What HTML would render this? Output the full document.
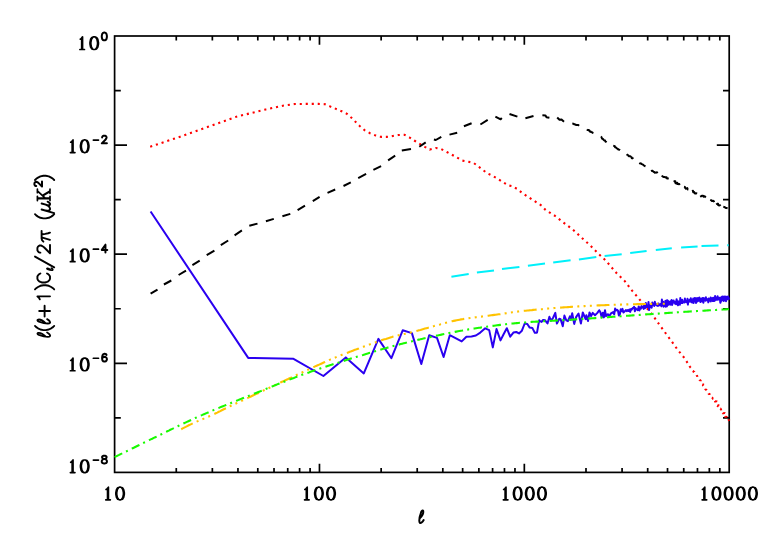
<!DOCTYPE html>
<html><head><meta charset="utf-8"><title>plot</title>
<style>html,body{margin:0;padding:0;background:#fff;font-family:"Liberation Sans",sans-serif}svg{display:block}</style>
</head><body>
<svg width="763" height="545" viewBox="0 0 763 545">
<rect width="763" height="545" fill="#fff"/>
<g stroke="#000" stroke-width="1.7" fill="none" stroke-linecap="butt">
<rect x="114.6" y="36.0" width="614.60" height="436.40"/>
<path d="M176.27 472.4v-4.4M176.27 36.0v4.4M212.35 472.4v-4.4M212.35 36.0v4.4M237.94 472.4v-4.4M237.94 36.0v4.4M257.80 472.4v-4.4M257.80 36.0v4.4M274.02 472.4v-4.4M274.02 36.0v4.4M287.73 472.4v-4.4M287.73 36.0v4.4M299.61 472.4v-4.4M299.61 36.0v4.4M310.09 472.4v-4.4M310.09 36.0v4.4M319.47 472.4v-8.7M319.47 36.0v8.7M381.14 472.4v-4.4M381.14 36.0v4.4M417.21 472.4v-4.4M417.21 36.0v4.4M442.81 472.4v-4.4M442.81 36.0v4.4M462.66 472.4v-4.4M462.66 36.0v4.4M478.88 472.4v-4.4M478.88 36.0v4.4M492.60 472.4v-4.4M492.60 36.0v4.4M504.48 472.4v-4.4M504.48 36.0v4.4M514.96 472.4v-4.4M514.96 36.0v4.4M524.33 472.4v-8.7M524.33 36.0v8.7M586.00 472.4v-4.4M586.00 36.0v4.4M622.08 472.4v-4.4M622.08 36.0v4.4M647.68 472.4v-4.4M647.68 36.0v4.4M667.53 472.4v-4.4M667.53 36.0v4.4M683.75 472.4v-4.4M683.75 36.0v4.4M697.47 472.4v-4.4M697.47 36.0v4.4M709.35 472.4v-4.4M709.35 36.0v4.4M719.83 472.4v-4.4M719.83 36.0v4.4M114.6 90.55h6.2M729.2 90.55h-6.2M114.6 145.10h12.4M729.2 145.10h-12.4M114.6 199.65h6.2M729.2 199.65h-6.2M114.6 254.20h12.4M729.2 254.20h-12.4M114.6 308.75h6.2M729.2 308.75h-6.2M114.6 363.30h12.4M729.2 363.30h-12.4M114.6 417.85h6.2M729.2 417.85h-6.2"/>
</g>
<path d="M150.2 146.7L179.5 136.9L208.0 126.8L236.4 116.7L265.8 109.4L282.8 105.7L294.8 104.0L306.7 103.9L318.6 103.9L325.0 104.2L330.5 106.6L341.6 111.2L347.0 113.9L351.7 118.0L355.9 122.2L359.9 126.2L364.5 130.1L370.0 133.2L375.5 135.4L381.0 136.9L386.5 136.9L392.9 136.0L398.4 135.0L404.5 134.8L409.3 137.3L414.3 140.5L419.3 143.6L424.8 146.9L429.7 149.6L435.8 148.0L441.3 149.1L446.8 152.0L451.7 154.6L456.9 157.5L462.4 160.6L467.9 161.6L473.4 162.8L478.0 166.1L482.6 169.8L487.7 173.5L492.7 175.9L498.2 179.0L503.1 182.3L508.3 185.4L512.4 186.2L517.4 189.1L522.0 192.8L531.6 199.2L541.8 205.8L545.5 209.9L554.7 215.7L564.2 223.1L573.0 229.7L581.3 237.4L589.9 245.1L598.2 253.5L606.1 260.9L613.4 269.5L616.9 273.5L624.8 281.1L632.1 290.7L638.9 298.6L642.6 303.2L652.3 314.5L658.7 323.7L665.1 332.5L671.7 341.4L677.7 349.8L683.9 357.4L689.4 365.7L689.3 365.7L689.7 366.4L690.1 367.0L690.5 367.6L691.0 368.1L691.4 368.8L692.2 369.1L692.4 369.8L692.6 370.5L693.2 371.0L693.5 371.7L694.3 372.0L694.5 372.7L695.1 373.3L695.4 373.9L695.8 374.5L696.5 374.9L696.8 375.6L697.2 376.2L697.3 377.0L697.8 377.6L698.5 377.9L698.6 378.8L699.4 379.1L699.6 379.9L700.3 380.3L700.7 380.8L700.7 381.8L701.5 382.1L701.9 382.7L701.9 383.6L702.3 384.2L703.1 384.5L703.0 385.4L703.7 385.9L704.0 386.5L704.7 386.9L704.6 387.9L705.1 388.4L705.3 389.1L705.8 389.7L706.6 390.0L706.9 390.7L707.4 391.2L707.8 391.8L708.3 392.4L708.5 393.1L708.7 393.8L709.5 394.2L709.4 395.1L710.1 395.4L710.6 395.9L710.8 396.8L711.5 397.0L712.1 397.4L712.5 398.0L712.9 398.7L713.8 398.8L713.7 399.9L714.8 399.8L714.8 400.8L715.0 401.4L716.2 401.5L715.9 402.5L716.7 402.9L716.8 403.6L717.8 403.8L718.1 404.4L718.4 405.1L718.0 406.2L719.1 406.3L719.0 407.2L719.2 407.9L719.5 408.5L720.5 408.7L720.9 409.3L721.1 410.0L721.2 410.8L722.3 410.9L722.1 412.0L722.5 412.6L722.8 413.2L724.1 413.1L723.6 414.4L724.9 414.3L725.1 415.1L725.2 415.9L725.3 416.7L726.4 416.9L726.2 417.9L727.0 418.2L727.7 418.6L728.1 419.2L728.8 419.9L728.0 420.6" fill="none" stroke="#ff0000" stroke-width="2.1" stroke-dasharray="2.1 3.9"/>
<path d="M150.6 293.7L157.5 289.6M163.9 284.5L171.3 280.5M178.6 275.0L186.0 270.7M192.4 265.2L199.7 260.7M206.7 255.2L214.4 250.6M220.8 245.1L228.2 240.5M234.6 235.3L241.9 230.4M249.3 225.8L257.5 223.6M265.9 221.3L273.8 218.9M282.4 216.3L290.3 213.9M297.6 210.2L305.0 205.7M312.8 201.1L319.6 196.8M327.5 192.8L335.2 189.5M343.5 186.0L350.8 182.4M358.2 178.1L366.1 173.9M373.4 169.9L381.1 166.2M388.1 160.3L395.2 155.7M401.8 150.5L411.0 148.9M419.3 146.8L425.7 142.4M433.9 139.5L435.8 140.0L441.3 136.9M449.5 134.6L457.2 132.7M463.9 126.3L471.6 123.2M480.4 124.5L487.7 119.9M495.4 116.6L500.6 119.3L501.8 118.0M509.5 114.0L517.4 116.6M525.4 118.2L533.5 116.0M542.4 115.3L545.5 115.5L546.5 117.2L549.4 117.7M557.2 117.5L559.5 119.8L561.5 119.4L564.0 121.7M572.3 123.6L573.2 123.7L574.0 124.2L574.9 124.3L575.7 124.8L576.5 125.1L577.5 124.9L578.4 125.1L579.1 125.8M587.0 129.4L587.6 130.1L588.5 130.0L589.3 130.4L589.6 131.4L590.6 131.4L591.1 132.1L592.0 132.3L592.6 132.8L593.4 133.1M600.7 136.8L601.5 137.1L601.8 138.0L602.2 138.7L603.0 139.0L603.5 139.7L604.1 140.2L605.1 140.4L605.3 141.4L606.0 141.8L606.6 142.3M613.2 145.6L614.0 145.9L614.8 146.2L615.1 147.3L615.9 147.4L616.5 148.1L617.1 148.6L617.9 149.0L618.4 149.6L619.4 149.7L620.0 150.2M626.8 154.2L627.3 154.9L628.1 155.1L628.6 155.9L629.2 156.3L630.3 156.2L630.9 156.7L631.6 157.2L631.8 158.2L632.8 158.3L633.4 158.8M639.4 162.8L640.1 163.4L641.1 163.4L641.7 164.1L642.5 164.4L643.3 164.8L643.9 165.5L644.7 166.0L645.5 166.3M651.5 169.9L651.9 170.9L652.9 171.0L653.4 171.7L654.2 172.0L654.9 172.7L655.9 172.6L657.0 172.3L657.5 173.2M661.9 175.4L662.4 176.3L663.1 176.8L663.9 177.1L664.9 177.0L665.5 177.5L666.6 177.2L667.0 178.4L667.9 178.4L668.7 178.7M673.6 181.0L674.5 181.2L675.3 181.3L675.3 182.8L675.9 183.4L677.3 182.7L677.4 184.1L678.4 184.0L679.3 184.1L679.7 185.0M684.0 186.7L684.9 186.9L685.2 188.1L685.9 188.7L687.3 188.1L687.6 189.4L688.4 189.7M691.9 191.1L693.0 190.8L693.2 192.2L694.2 192.0L694.6 193.1L695.3 193.6L696.4 193.3L697.1 193.7M700.6 195.4L701.0 196.4L702.2 195.7L703.1 195.7L703.5 196.7L704.6 196.2L705.2 196.8L705.8 197.5M710.2 199.8L711.1 200.2L711.7 200.9L712.9 200.8L713.8 201.1L714.2 202.2M716.6 203.1L716.9 204.0L718.1 203.8L718.2 205.1L718.9 205.5L720.0 205.3L720.6 205.9M723.3 206.8L724.2 207.0L725.0 207.4L725.8 207.9L726.7 208.1L727.6 208.3" fill="none" stroke="#000" stroke-width="2" stroke-linejoin="round"/>
<path d="M451.4 276.7L468.7 274.1M476.9 272.5L494.0 270.4M502.0 269.1L519.4 266.9M527.9 265.7L545.0 263.6M553.2 262.5L570.6 260.2M578.9 259.4L596.3 257.0M604.6 255.9L621.7 254.3M630.2 253.1L646.6 251.0M655.8 250.0L671.8 248.2M681.1 247.5L697.6 246.5M701.5 246.1L718.5 245.4M727.2 245.3L728.6 245.2" fill="none" stroke="#00f0fa" stroke-width="2.0"/>
<path d="M150.6 211.5L248.2 357.9L293.5 358.8L323.4 376.0L345.8 357.4L363.8 373.4L378.4 338.9L391.4 358.2L402.7 330.3L411.9 333.1L421.3 364.0L429.2 335.2L437.0 337.9L443.6 357.0L449.8 335.2L456.0 338.4L461.7 341.4L466.4 336.7L471.5 336.4L475.9 335.5L480.3 332.6L485.2 328.3L489.2 330.1L492.8 347.4L496.5 329.1L500.5 340.4L503.6 334.2L506.8 328.2L510.2 336.7L513.4 332.6L516.3 332.0L519.0 333.4L521.9 330.7L524.7 323.5L527.3 324.0L529.7 327.6L532.3 327.9L534.8 332.7L537.0 332.7L539.2 320.2L540.0 321.1L541.6 321.9L543.1 319.9L545.1 320.3L547.5 323.5L549.4 316.8L551.0 320.7L553.0 318.0L555.3 312.9L556.9 323.5L559.3 318.8L560.6 319.2L562.8 326.2L564.4 315.6L566.3 320.3L567.9 321.1L569.9 316.4L570.7 319.9L572.2 313.3L574.2 323.9L576.2 316.8L578.5 313.6L580.9 323.5L582.8 312.5L585.6 319.2L586.4 315.2L588.0 321.1L589.5 312.5L591.1 316.0L592.7 312.9L595.0 315.2L597.4 312.9L599.2 310.2L600.5 312.5L601.7 317.3L602.8 312.7L603.9 317.4L605.0 310.2L606.0 316.2L607.1 314.4L608.1 314.3L609.2 316.7L610.2 314.6L611.2 313.2L612.2 312.8L613.2 312.0L614.2 314.4L615.1 308.6L616.1 310.4L617.0 309.8L618.0 310.8L618.9 315.5L619.8 314.5L620.7 309.3L621.6 311.2L622.5 308.9L623.4 312.5L624.3 311.7L625.1 310.9L626.0 310.1L626.8 311.2L627.7 310.1L628.5 311.0L629.3 309.5L630.2 311.9L631.0 308.9L631.8 309.6L632.6 308.1L633.3 308.1L634.1 306.8L634.9 311.3L635.7 308.1L636.4 309.6L637.2 309.6L637.9 310.2L638.7 306.5L639.4 310.4L640.1 307.4L640.9 308.7L641.6 305.9L642.3 307.5L643.0 307.1L643.7 308.9L644.4 304.5L645.1 308.2L645.8 303.0L646.4 307.3L647.1 306.3L647.8 307.0L648.5 302.1L649.1 310.1L649.8 305.4L650.4 305.4L651.1 307.2L651.7 307.7L652.3 302.4L653.0 305.1L653.6 303.7L654.2 306.0L654.8 301.8L655.4 304.8L656.1 304.7L656.7 305.5L657.3 303.9L657.9 306.0L658.5 303.4L659.0 305.0L659.6 305.3L660.2 305.2L660.8 303.8L661.4 306.4L661.9 299.5L662.5 305.3L663.1 301.7L663.6 306.7L664.2 303.7L664.7 306.1L665.3 301.0L665.8 306.7L666.4 300.6L666.9 306.3L667.4 300.3L668.0 305.1L668.5 301.3L669.0 302.6L669.6 303.1L670.1 304.8L670.6 301.2L671.1 304.2L671.6 299.9L672.1 305.0L672.6 303.4L673.1 301.8L673.6 300.5L674.1 302.6L674.6 302.0L675.1 303.6L675.6 301.6L676.1 304.3L676.6 299.2L677.1 303.0L677.5 301.0L678.0 305.3L678.5 301.7L679.0 301.7L679.4 301.4L679.9 304.7L680.3 298.1L680.8 302.3L681.3 300.6L681.7 303.0L682.2 299.7L682.6 302.9L683.1 302.2L683.5 301.7L684.0 301.2L684.4 302.5L684.9 298.6L685.3 301.7L685.7 300.9L686.2 302.2L686.6 300.9L687.0 301.3L687.5 298.8L687.9 304.6L688.3 299.9L688.7 300.4L689.1 301.7L689.6 301.4L690.0 299.5L690.4 301.7L690.8 298.2L691.2 300.7L691.6 300.6L692.0 302.6L692.4 300.2L692.8 301.0L693.2 298.6L693.6 303.0L694.0 300.8L694.4 300.6L694.8 297.9L695.2 300.9L695.6 298.3L696.0 302.9L696.4 298.3L696.8 301.7L697.1 299.8L697.5 301.5L697.9 298.1L698.3 299.9L698.7 299.8L699.0 300.8L699.4 297.5L699.8 300.8L700.2 298.4L700.5 302.1L700.9 300.4L701.3 300.4L701.6 298.7L702.0 301.2L702.3 298.1L702.7 301.6L703.1 298.5L703.4 302.7L703.8 298.1L704.1 300.9L704.5 298.9L704.8 299.0L705.2 299.3L705.5 300.8L705.9 297.3L706.2 299.2L706.6 299.1L706.9 299.0L707.3 300.6L707.6 300.6L707.9 299.3L708.3 302.3L708.6 298.6L709.0 301.2L709.3 299.5L709.6 299.7L710.0 298.9L710.3 300.0L710.6 297.5L710.9 301.4L711.3 299.1L711.6 300.0L711.9 298.3L712.2 299.5L712.6 298.7L712.9 301.0L713.2 297.7L713.5 301.0L713.8 299.0L714.2 301.0L714.5 299.2L714.8 300.7L715.1 296.1L715.4 299.8L715.7 297.6L716.0 299.6L716.3 298.6L716.7 299.7L717.0 297.3L717.3 299.7L717.6 296.3L717.9 299.5L718.2 297.7L718.5 297.9L718.8 298.8L719.1 299.4L719.4 297.8L719.7 298.9L720.0 298.6L720.3 302.8L720.6 299.1L720.9 301.6L721.2 297.3L721.4 299.5L721.7 298.0L722.0 298.9L722.3 296.6L722.6 300.2L722.9 297.8L723.2 299.6L723.5 298.7L723.7 301.0L724.0 296.6L724.3 299.1L724.6 297.4L724.9 300.3L725.1 296.6L725.4 300.5L725.7 298.2L726.0 301.2L726.3 296.8L726.5 299.8L726.8 298.3L727.1 299.2L727.4 299.3L727.6 299.1L727.9 296.6L728.2 299.2L728.4 297.2L728.7 298.2L729.0 299.7" fill="none" stroke="#2a00f0" stroke-width="2" stroke-linejoin="round"/>
<path d="M181.2 429.2L182.7 428.4L184.2 427.6L185.7 426.9L187.2 426.1L188.7 425.3L190.2 424.6L191.7 423.9L193.2 423.1L194.7 422.4L196.2 421.8L197.8 421.1L199.3 420.4L200.8 419.8L202.3 419.2L203.8 418.6L205.3 417.9L206.8 417.3L208.3 416.7L209.8 416.0L211.3 415.4L212.8 414.7L214.3 414.0L215.8 413.3L217.3 412.6L218.8 411.8L220.3 411.1L221.8 410.3L223.3 409.5L224.8 408.8L226.3 408.0L227.9 407.3L229.4 406.6L230.9 405.8L232.4 405.1L233.9 404.4L235.4 403.7L236.9 403.0L238.4 402.3L239.9 401.6L241.4 400.9L242.9 400.2L244.4 399.5L245.9 398.8L247.4 398.1L248.9 397.4L250.4 396.7L251.9 396.0L253.4 395.3L254.9 394.6L256.4 393.9L258.0 393.2L259.5 392.5L261.0 391.8L262.5 391.0L264.0 390.3L265.5 389.6L267.0 388.9L268.5 388.2L270.0 387.5L271.5 386.8L273.0 386.1L274.5 385.4L276.0 384.7L277.5 383.9L279.0 383.2L280.5 382.5L282.0 381.8L283.5 381.1L285.0 380.4L286.5 379.7L288.1 379.0L289.6 378.3L291.1 377.6L292.6 376.9L294.1 376.2L295.6 375.5L297.1 374.8L298.6 374.1L300.1 373.4L301.6 372.7L303.1 372.0L304.6 371.3L306.1 370.6L307.6 369.9L309.1 369.2L310.6 368.5L312.1 367.8L313.6 367.1L315.1 366.4L316.6 365.7L318.2 365.1L319.7 364.4L321.2 363.7L322.7 363.0L324.2 362.3L325.7 361.6L327.2 360.9L328.7 360.3L330.2 359.6L331.7 359.0L333.2 358.4L334.7 357.7L336.2 357.1L337.7 356.5L339.2 355.9L340.7 355.3L342.2 354.7L343.7 354.1L345.2 353.5L346.7 353.0L348.3 352.4L349.8 351.8L351.3 351.3L352.8 350.7L354.3 350.1L355.8 349.6L357.3 349.0L358.8 348.5L360.3 347.9L361.8 347.4L363.3 346.8L364.8 346.2L366.3 345.7L367.8 345.1L369.3 344.6L370.8 344.0L372.3 343.5L373.8 342.9L375.3 342.4L376.8 341.9L378.4 341.4L379.9 340.8L381.4 340.3L382.9 339.8L384.4 339.3L385.9 338.9L387.4 338.4L388.9 337.9L390.4 337.5L391.9 337.1L393.4 336.6L394.9 336.2L396.4 335.9L397.9 335.5L399.4 335.1L400.9 334.7L402.4 334.4L403.9 334.0L405.4 333.7L406.9 333.3L408.5 333.0L410.0 332.6L411.5 332.3L413.0 331.9L414.5 331.5L416.0 331.1L417.5 330.7L419.0 330.3L420.5 329.9L422.0 329.4L423.5 329.0L425.0 328.6L426.5 328.2L428.0 327.8L429.5 327.3L431.0 326.9L432.5 326.5L434.0 326.1L435.5 325.6L437.0 325.2L438.5 324.8L440.1 324.4L441.6 323.9L443.1 323.5L444.6 323.1L446.1 322.7L447.6 322.3L449.1 322.0L450.6 321.6L452.1 321.2L453.6 320.9L455.1 320.6L456.6 320.3L458.1 320.0L459.6 319.7L461.1 319.4L462.6 319.2L464.1 318.9L465.6 318.7L467.1 318.5L468.6 318.2L470.2 318.0L471.7 317.8L473.2 317.6L474.7 317.4L476.2 317.2L477.7 317.0L479.2 316.8L480.7 316.6L482.2 316.5L483.7 316.3L485.2 316.1L486.7 315.9L488.2 315.7L489.7 315.5L491.2 315.3L492.7 315.1L494.2 314.9L495.7 314.7L497.2 314.5L498.7 314.3L500.3 314.1L501.8 313.8L503.3 313.6L504.8 313.4L506.3 313.2L507.8 312.9L509.3 312.7L510.8 312.5L512.3 312.3L513.8 312.1L515.3 311.9L516.8 311.7L518.3 311.5L519.8 311.3L521.3 311.2L522.8 311.0L524.3 310.8L525.8 310.7L527.3 310.5L528.8 310.4L530.4 310.2L531.9 310.1L533.4 309.9L534.9 309.8L536.4 309.6L537.9 309.5L539.4 309.3L540.9 309.2L542.4 309.1L543.9 308.9L545.4 308.8L546.9 308.7L548.4 308.5L549.9 308.4L551.4 308.3L552.9 308.2L554.4 308.0L555.9 307.9L557.4 307.8L558.9 307.7L560.5 307.6L562.0 307.5L563.5 307.4L565.0 307.3L566.5 307.2L568.0 307.1L569.5 307.0L571.0 306.9L572.5 306.8L574.0 306.7L575.5 306.6L577.0 306.5L578.5 306.4L580.0 306.3L581.5 306.3L583.0 306.2L584.5 306.1L586.0 306.0L587.5 305.9L589.0 305.9L590.6 305.8L592.1 305.7L593.6 305.6L595.1 305.6L596.6 305.5L598.1 305.4L599.6 305.4L601.1 305.3L602.6 305.2L604.1 305.2L605.6 305.1L607.1 305.0L608.6 305.0L610.1 304.9L611.6 304.9L613.1 304.8L614.6 304.8L616.1 304.7L617.6 304.7L619.1 304.6L620.7 304.6L622.2 304.5L623.7 304.5L625.2 304.4L626.7 304.4L628.2 304.4L629.7 304.3L631.2 304.3L632.7 304.2L634.2 304.2L635.7 304.2L637.2 304.1L638.7 304.1L640.2 304.1L641.7 304.1L643.2 304.0L644.7 304.0L646.2 304.0L647.7 304.0L649.2 303.9L650.8 303.9L652.3 303.9L653.8 303.9L655.3 303.9L656.8 303.9L658.3 303.8L659.8 303.8L661.3 303.8L662.8 303.8L664.3 303.8L665.8 303.8" fill="none" stroke="#ffc300" stroke-width="2.1" stroke-dasharray="12.9 4.3 2 4.3 2 4.3 2 4.7"/>
<path d="M114.6 457.1L116.1 456.4L117.6 455.6L119.1 454.9L120.6 454.1L122.1 453.4L123.6 452.6L125.1 451.9L126.6 451.2L128.2 450.4L129.7 449.7L131.2 449.0L132.7 448.2L134.2 447.5L135.7 446.7L137.2 446.0L138.7 445.3L140.2 444.5L141.7 443.8L143.2 443.1L144.7 442.3L146.2 441.6L147.7 440.9L149.2 440.1L150.7 439.4L152.2 438.7L153.8 437.9L155.3 437.2L156.8 436.5L158.3 435.7L159.8 435.0L161.3 434.3L162.8 433.5L164.3 432.8L165.8 432.0L167.3 431.3L168.8 430.6L170.3 429.8L171.8 429.1L173.3 428.4L174.8 427.6L176.3 426.9L177.8 426.2L179.4 425.4L180.9 424.7L182.4 424.0L183.9 423.3L185.4 422.6L186.9 421.9L188.4 421.2L189.9 420.5L191.4 419.8L192.9 419.1L194.4 418.4L195.9 417.7L197.4 417.1L198.9 416.4L200.4 415.7L201.9 415.1L203.4 414.4L205.0 413.8L206.5 413.1L208.0 412.5L209.5 411.8L211.0 411.2L212.5 410.6L214.0 409.9L215.5 409.3L217.0 408.7L218.5 408.1L220.0 407.4L221.5 406.8L223.0 406.2L224.5 405.6L226.0 405.0L227.5 404.4L229.0 403.8L230.6 403.2L232.1 402.5L233.6 401.9L235.1 401.3L236.6 400.7L238.1 400.1L239.6 399.5L241.1 398.9L242.6 398.3L244.1 397.7L245.6 397.1L247.1 396.5L248.6 395.9L250.1 395.3L251.6 394.7L253.1 394.1L254.6 393.5L256.2 392.9L257.7 392.3L259.2 391.7L260.7 391.1L262.2 390.5L263.7 389.9L265.2 389.3L266.7 388.6L268.2 388.0L269.7 387.4L271.2 386.8L272.7 386.2L274.2 385.6L275.7 385.0L277.2 384.4L278.7 383.8L280.2 383.2L281.8 382.6L283.3 382.1L284.8 381.5L286.3 380.9L287.8 380.3L289.3 379.7L290.8 379.1L292.3 378.5L293.8 378.0L295.3 377.4L296.8 376.8L298.3 376.3L299.8 375.7L301.3 375.1L302.8 374.6L304.3 374.0L305.8 373.5L307.4 372.9L308.9 372.4L310.4 371.8L311.9 371.3L313.4 370.8L314.9 370.2L316.4 369.7L317.9 369.2L319.4 368.7L320.9 368.2L322.4 367.7L323.9 367.2L325.4 366.7L326.9 366.2L328.4 365.7L329.9 365.2L331.4 364.8L333.0 364.3L334.5 363.8L336.0 363.3L337.5 362.9L339.0 362.4L340.5 361.9L342.0 361.5L343.5 361.0L345.0 360.5L346.5 360.0L348.0 359.6L349.5 359.1L351.0 358.6L352.5 358.1L354.0 357.7L355.5 357.2L357.0 356.7L358.6 356.3L360.1 355.8L361.6 355.3L363.1 354.9L364.6 354.4L366.1 353.9L367.6 353.5L369.1 353.0L370.6 352.6L372.1 352.1L373.6 351.6L375.1 351.2L376.6 350.8L378.1 350.3L379.6 349.9L381.1 349.4L382.6 349.0L384.2 348.6L385.7 348.2L387.2 347.7L388.7 347.3L390.2 346.9L391.7 346.5L393.2 346.1L394.7 345.7L396.2 345.3L397.7 344.9L399.2 344.5L400.7 344.1L402.2 343.7L403.7 343.3L405.2 342.9L406.7 342.6L408.2 342.2L409.8 341.8L411.3 341.4L412.8 341.1L414.3 340.7L415.8 340.3L417.3 340.0L418.8 339.6L420.3 339.3L421.8 338.9L423.3 338.6L424.8 338.2L426.3 337.9L427.8 337.6L429.3 337.2L430.8 336.9L432.3 336.6L433.8 336.2L435.4 335.9L436.9 335.6L438.4 335.3L439.9 334.9L441.4 334.6L442.9 334.3L444.4 334.0L445.9 333.7L447.4 333.4L448.9 333.1L450.4 332.8L451.9 332.5L453.4 332.2L454.9 331.9L456.4 331.6L457.9 331.3L459.4 331.0L461.0 330.7L462.5 330.5L464.0 330.2L465.5 329.9L467.0 329.7L468.5 329.4L470.0 329.2L471.5 328.9L473.0 328.7L474.5 328.5L476.0 328.2L477.5 328.0L479.0 327.8L480.5 327.6L482.0 327.3L483.5 327.1L485.0 326.9L486.6 326.7L488.1 326.5L489.6 326.3L491.1 326.1L492.6 325.9L494.1 325.7L495.6 325.5L497.1 325.3L498.6 325.1L500.1 324.9L501.6 324.7L503.1 324.5L504.6 324.3L506.1 324.2L507.6 324.0L509.1 323.8L510.6 323.7L512.2 323.5L513.7 323.4L515.2 323.2L516.7 323.1L518.2 323.0L519.7 322.8L521.2 322.7L522.7 322.6L524.2 322.5L525.7 322.4L527.2 322.2L528.7 322.1L530.2 322.0L531.7 321.9L533.2 321.8L534.7 321.7L536.2 321.6L537.8 321.6L539.3 321.5L540.8 321.4L542.3 321.3L543.8 321.2L545.3 321.1L546.8 321.0L548.3 320.9L549.8 320.9L551.3 320.8L552.8 320.7L554.3 320.6L555.8 320.5L557.3 320.5L558.8 320.4L560.3 320.3L561.8 320.2L563.4 320.1L564.9 320.0L566.4 320.0L567.9 319.9L569.4 319.8L570.9 319.7L572.4 319.6L573.9 319.5L575.4 319.4L576.9 319.3L578.4 319.2L579.9 319.1L581.4 319.0L582.9 318.9L584.4 318.8L585.9 318.7L587.4 318.6L589.0 318.5L590.5 318.4L592.0 318.3L593.5 318.2L595.0 318.1L596.5 318.0L598.0 317.8L599.5 317.7L601.0 317.6L602.5 317.5L604.0 317.4L605.5 317.3L607.0 317.2L608.5 317.1L610.0 317.0L611.5 316.9L613.0 316.8L614.6 316.7L616.1 316.6L617.6 316.5L619.1 316.4L620.6 316.3L622.1 316.2L623.6 316.0L625.1 315.9L626.6 315.8L628.1 315.7L629.6 315.6L631.1 315.5L632.6 315.4L634.1 315.3L635.6 315.2L637.1 315.1L638.6 315.0L640.2 314.9L641.7 314.8L643.2 314.7L644.7 314.6L646.2 314.4L647.7 314.3L649.2 314.2L650.7 314.1L652.2 314.0L653.7 313.9L655.2 313.8L656.7 313.7L658.2 313.6L659.7 313.5L661.2 313.4L662.7 313.3L664.2 313.2L665.8 313.1L667.3 313.0L668.8 312.9L670.3 312.8L671.8 312.7L673.3 312.6L674.8 312.5L676.3 312.4L677.8 312.3L679.3 312.2L680.8 312.1L682.3 312.0L683.8 311.9L685.3 311.8L686.8 311.7L688.3 311.6L689.8 311.5L691.4 311.4L692.9 311.3L694.4 311.2L695.9 311.1L697.4 311.0L698.9 310.9L700.4 310.9L701.9 310.8L703.4 310.7L704.9 310.6L706.4 310.5L707.9 310.4L709.4 310.3L710.9 310.2L712.4 310.1L713.9 310.0L715.4 310.0L717.0 309.9L718.5 309.8L720.0 309.7L721.5 309.6L723.0 309.5L724.5 309.5L726.0 309.4L727.5 309.3L729.0 309.2" fill="none" stroke="#18fa00" stroke-width="2.1" stroke-dasharray="8.5 4.2 2 4.44"/>
<g fill="none" stroke="#000" stroke-linecap="round" stroke-linejoin="round"><path d="M106.06 489.48L106.97 489.00L108.41 487.20L108.41 499.80M107.56 488.16L107.56 499.80M105.77 499.80L110.33 499.80" stroke-width="1.7"/><path d="M119.48 487.20L117.67 487.80L116.48 489.60L115.88 492.60L115.88 494.40L116.48 497.40L117.67 499.20L119.48 499.80L120.67 499.80L122.48 499.20L123.67 497.40L124.28 494.40L124.28 492.60L123.67 489.60L122.48 487.80L120.67 487.20L119.48 487.20M118.52 487.80L117.31 489.60L116.72 492.60L116.72 494.40L117.31 497.40L118.52 499.20M121.64 499.20L122.84 497.40L123.44 494.40L123.44 492.60L122.84 489.60L121.64 487.80" stroke-width="1.7"/><path d="M304.86 489.48L305.76 489.00L307.20 487.20L307.20 499.80M306.36 488.16L306.36 499.80M304.56 499.80L309.12 499.80" stroke-width="1.7"/><path d="M318.27 487.20L316.47 487.80L315.27 489.60L314.67 492.60L314.67 494.40L315.27 497.40L316.47 499.20L318.27 499.80L319.47 499.80L321.27 499.20L322.47 497.40L323.07 494.40L323.07 492.60L322.47 489.60L321.27 487.80L319.47 487.20L318.27 487.20M317.31 487.80L316.11 489.60L315.51 492.60L315.51 494.40L316.11 497.40L317.31 499.20M320.43 499.20L321.63 497.40L322.23 494.40L322.23 492.60L321.63 489.60L320.43 487.80" stroke-width="1.7"/><path d="M330.42 487.20L328.62 487.80L327.42 489.60L326.82 492.60L326.82 494.40L327.42 497.40L328.62 499.20L330.42 499.80L331.62 499.80L333.42 499.20L334.62 497.40L335.22 494.40L335.22 492.60L334.62 489.60L333.42 487.80L331.62 487.20L330.42 487.20M329.46 487.80L328.26 489.60L327.66 492.60L327.66 494.40L328.26 497.40L329.46 499.20M332.58 499.20L333.78 497.40L334.38 494.40L334.38 492.60L333.78 489.60L332.58 487.80" stroke-width="1.7"/><path d="M503.65 489.48L504.55 489.00L505.99 487.20L505.99 499.80M505.15 488.16L505.15 499.80M503.35 499.80L507.91 499.80" stroke-width="1.7"/><path d="M517.06 487.20L515.26 487.80L514.06 489.60L513.46 492.60L513.46 494.40L514.06 497.40L515.26 499.20L517.06 499.80L518.26 499.80L520.06 499.20L521.26 497.40L521.86 494.40L521.86 492.60L521.26 489.60L520.06 487.80L518.26 487.20L517.06 487.20M516.10 487.80L514.90 489.60L514.30 492.60L514.30 494.40L514.90 497.40L516.10 499.20M519.22 499.20L520.42 497.40L521.02 494.40L521.02 492.60L520.42 489.60L519.22 487.80" stroke-width="1.7"/><path d="M529.21 487.20L527.41 487.80L526.21 489.60L525.61 492.60L525.61 494.40L526.21 497.40L527.41 499.20L529.21 499.80L530.41 499.80L532.21 499.20L533.41 497.40L534.01 494.40L534.01 492.60L533.41 489.60L532.21 487.80L530.41 487.20L529.21 487.20M528.25 487.80L527.05 489.60L526.45 492.60L526.45 494.40L527.05 497.40L528.25 499.20M531.37 499.20L532.57 497.40L533.17 494.40L533.17 492.60L532.57 489.60L531.37 487.80" stroke-width="1.7"/><path d="M541.36 487.20L539.56 487.80L538.36 489.60L537.76 492.60L537.76 494.40L538.36 497.40L539.56 499.20L541.36 499.80L542.56 499.80L544.36 499.20L545.56 497.40L546.16 494.40L546.16 492.60L545.56 489.60L544.36 487.80L542.56 487.20L541.36 487.20M540.40 487.80L539.20 489.60L538.60 492.60L538.60 494.40L539.20 497.40L540.40 499.20M543.52 499.20L544.72 497.40L545.32 494.40L545.32 492.60L544.72 489.60L543.52 487.80" stroke-width="1.7"/><path d="M702.44 489.48L703.34 489.00L704.78 487.20L704.78 499.80M703.94 488.16L703.94 499.80M702.14 499.80L706.70 499.80" stroke-width="1.7"/><path d="M715.85 487.20L714.05 487.80L712.85 489.60L712.25 492.60L712.25 494.40L712.85 497.40L714.05 499.20L715.85 499.80L717.05 499.80L718.85 499.20L720.05 497.40L720.65 494.40L720.65 492.60L720.05 489.60L718.85 487.80L717.05 487.20L715.85 487.20M714.89 487.80L713.69 489.60L713.09 492.60L713.09 494.40L713.69 497.40L714.89 499.20M718.01 499.20L719.21 497.40L719.81 494.40L719.81 492.60L719.21 489.60L718.01 487.80" stroke-width="1.7"/><path d="M728.00 487.20L726.20 487.80L725.00 489.60L724.40 492.60L724.40 494.40L725.00 497.40L726.20 499.20L728.00 499.80L729.20 499.80L731.00 499.20L732.20 497.40L732.80 494.40L732.80 492.60L732.20 489.60L731.00 487.80L729.20 487.20L728.00 487.20M727.04 487.80L725.84 489.60L725.24 492.60L725.24 494.40L725.84 497.40L727.04 499.20M730.16 499.20L731.36 497.40L731.96 494.40L731.96 492.60L731.36 489.60L730.16 487.80" stroke-width="1.7"/><path d="M740.15 487.20L738.35 487.80L737.15 489.60L736.55 492.60L736.55 494.40L737.15 497.40L738.35 499.20L740.15 499.80L741.35 499.80L743.15 499.20L744.35 497.40L744.95 494.40L744.95 492.60L744.35 489.60L743.15 487.80L741.35 487.20L740.15 487.20M739.19 487.80L737.99 489.60L737.39 492.60L737.39 494.40L737.99 497.40L739.19 499.20M742.31 499.20L743.51 497.40L744.11 494.40L744.11 492.60L743.51 489.60L742.31 487.80" stroke-width="1.7"/><path d="M752.30 487.20L750.50 487.80L749.30 489.60L748.70 492.60L748.70 494.40L749.30 497.40L750.50 499.20L752.30 499.80L753.50 499.80L755.30 499.20L756.50 497.40L757.10 494.40L757.10 492.60L756.50 489.60L755.30 487.80L753.50 487.20L752.30 487.20M751.34 487.80L750.14 489.60L749.54 492.60L749.54 494.40L750.14 497.40L751.34 499.20M754.46 499.20L755.66 497.40L756.26 494.40L756.26 492.60L755.66 489.60L754.46 487.80" stroke-width="1.7"/><path d="M80.20 39.18L81.10 38.70L82.54 36.90L82.54 49.50M81.70 37.86L81.70 49.50M79.90 49.50L84.46 49.50" stroke-width="1.7"/><path d="M93.61 36.90L91.81 37.50L90.61 39.30L90.01 42.30L90.01 44.10L90.61 47.10L91.81 48.90L93.61 49.50L94.81 49.50L96.61 48.90L97.81 47.10L98.41 44.10L98.41 42.30L97.81 39.30L96.61 37.50L94.81 36.90L93.61 36.90M92.65 37.50L91.45 39.30L90.85 42.30L90.85 44.10L91.45 47.10L92.65 48.90M95.77 48.90L96.97 47.10L97.57 44.10L97.57 42.30L96.97 39.30L95.77 37.50" stroke-width="1.7"/><path d="M103.97 32.61L102.88 32.98L102.14 34.08L101.78 35.91L101.78 37.01L102.14 38.84L102.88 39.93L103.97 40.30L104.71 40.30L105.80 39.93L106.54 38.84L106.90 37.01L106.90 35.91L106.54 34.08L105.80 32.98L104.71 32.61L103.97 32.61" stroke-width="2.0"/><path d="M70.68 142.23L71.58 141.75L73.02 139.95L73.02 152.55M72.18 140.91L72.18 152.55M70.38 152.55L74.94 152.55" stroke-width="1.7"/><path d="M84.09 139.95L82.29 140.55L81.09 142.35L80.49 145.35L80.49 147.15L81.09 150.15L82.29 151.95L84.09 152.55L85.29 152.55L87.09 151.95L88.29 150.15L88.89 147.15L88.89 145.35L88.29 142.35L87.09 140.55L85.29 139.95L84.09 139.95M83.13 140.55L81.93 142.35L81.33 145.35L81.33 147.15L81.93 150.15L83.13 151.95M86.25 151.95L87.45 150.15L88.05 147.15L88.05 145.35L87.45 142.35L86.25 140.55" stroke-width="1.7"/><path d="M93.36 140.06L98.48 140.06" stroke-width="1.7"/><path d="M102.14 137.49L102.14 137.13L102.51 136.40L102.88 136.03L103.61 135.66L105.07 135.66L105.80 136.03L106.17 136.40L106.54 137.13L106.54 137.86L106.17 138.59L105.44 139.69L101.78 143.35L106.90 143.35" stroke-width="2.0"/><path d="M70.68 251.33L71.58 250.85L73.02 249.05L73.02 261.65M72.18 250.01L72.18 261.65M70.38 261.65L74.94 261.65" stroke-width="1.7"/><path d="M84.09 249.05L82.29 249.65L81.09 251.45L80.49 254.45L80.49 256.25L81.09 259.25L82.29 261.05L84.09 261.65L85.29 261.65L87.09 261.05L88.29 259.25L88.89 256.25L88.89 254.45L88.29 251.45L87.09 249.65L85.29 249.05L84.09 249.05M83.13 249.65L81.93 251.45L81.33 254.45L81.33 256.25L81.93 259.25L83.13 261.05M86.25 261.05L87.45 259.25L88.05 256.25L88.05 254.45L87.45 251.45L86.25 249.65" stroke-width="1.7"/><path d="M93.36 249.16L98.48 249.16" stroke-width="1.7"/><path d="M105.44 244.76L101.78 249.89L107.27 249.89M105.44 244.76L105.44 252.45" stroke-width="2.0"/><path d="M70.68 360.43L71.58 359.95L73.02 358.15L73.02 370.75M72.18 359.11L72.18 370.75M70.38 370.75L74.94 370.75" stroke-width="1.7"/><path d="M84.09 358.15L82.29 358.75L81.09 360.55L80.49 363.55L80.49 365.35L81.09 368.35L82.29 370.15L84.09 370.75L85.29 370.75L87.09 370.15L88.29 368.35L88.89 365.35L88.89 363.55L88.29 360.55L87.09 358.75L85.29 358.15L84.09 358.15M83.13 358.75L81.93 360.55L81.33 363.55L81.33 365.35L81.93 368.35L83.13 370.15M86.25 370.15L87.45 368.35L88.05 365.35L88.05 363.55L87.45 360.55L86.25 358.75" stroke-width="1.7"/><path d="M93.36 358.26L98.48 358.26" stroke-width="1.7"/><path d="M106.54 354.96L106.17 354.23L105.07 353.86L104.34 353.86L103.24 354.23L102.51 355.33L102.14 357.16L102.14 358.99L102.51 360.45L103.24 361.18L104.34 361.55L104.71 361.55L105.80 361.18L106.54 360.45L106.90 359.35L106.90 358.99L106.54 357.89L105.80 357.16L104.71 356.79L104.34 356.79L103.24 357.16L102.51 357.89L102.14 358.99" stroke-width="2.0"/><path d="M70.68 462.28L71.58 461.80L73.02 460.00L73.02 472.60M72.18 460.96L72.18 472.60M70.38 472.60L74.94 472.60" stroke-width="1.7"/><path d="M84.09 460.00L82.29 460.60L81.09 462.40L80.49 465.40L80.49 467.20L81.09 470.20L82.29 472.00L84.09 472.60L85.29 472.60L87.09 472.00L88.29 470.20L88.89 467.20L88.89 465.40L88.29 462.40L87.09 460.60L85.29 460.00L84.09 460.00M83.13 460.60L81.93 462.40L81.33 465.40L81.33 467.20L81.93 470.20L83.13 472.00M86.25 472.00L87.45 470.20L88.05 467.20L88.05 465.40L87.45 462.40L86.25 460.60" stroke-width="1.7"/><path d="M93.36 460.11L98.48 460.11" stroke-width="1.7"/><path d="M103.61 455.71L102.51 456.08L102.14 456.81L102.14 457.54L102.51 458.28L103.24 458.64L104.71 459.01L105.80 459.37L106.54 460.11L106.90 460.84L106.90 461.94L106.54 462.67L106.17 463.03L105.07 463.40L103.61 463.40L102.51 463.03L102.14 462.67L101.78 461.94L101.78 460.84L102.14 460.11L102.88 459.37L103.97 459.01L105.44 458.64L106.17 458.28L106.54 457.54L106.54 456.81L106.17 456.08L105.07 455.71L103.61 455.71" stroke-width="2.0"/><path d="M419.78 518.40 C421.58 516.60 423.50 513.00 423.26 511.14 C423.02 509.94 421.94 510.18 421.28 511.74 C420.38 514.14 419.30 518.40 419.30 520.74 C419.30 523.02 420.38 523.38 421.40 522.72 C422.30 522.18 423.14 521.10 423.68 520.02 " stroke-width="2.0"/><path d="M45.50 336.42 C43.70 334.62 40.10 332.70 38.24 332.94 C37.04 333.18 37.28 334.26 38.84 334.92 C41.24 335.82 45.50 336.90 47.84 336.90 C50.12 336.90 50.48 335.82 49.82 334.80 C49.28 333.90 48.20 333.06 47.12 332.52 " stroke-width="1.9"/><path d="M35.00 325.90L36.20 327.10L38.00 328.30L40.40 329.50L43.40 330.10L45.80 330.10L48.80 329.50L51.20 328.30L53.00 327.10L54.20 325.90" stroke-width="1.9"/><path d="M45.50 323.07 C43.70 321.27 40.10 319.35 38.24 319.59 C37.04 319.83 37.28 320.91 38.84 321.57 C41.24 322.47 45.50 323.55 47.84 323.55 C50.12 323.55 50.48 322.47 49.82 321.45 C49.28 320.55 48.20 319.71 47.12 319.17 " stroke-width="1.9"/><path d="M39.20 311.05L50.00 311.05M44.60 316.45L44.60 305.65" stroke-width="1.9"/><path d="M39.80 299.35L39.20 298.15L37.40 296.35L50.00 296.35" stroke-width="1.9"/><path d="M35.00 289.40L36.20 288.20L38.00 287.00L40.40 285.80L43.40 285.20L45.80 285.20L48.80 285.80L51.20 287.00L53.00 288.20L54.20 289.40" stroke-width="1.9"/><path d="M40.40 273.50L39.20 274.10L38.00 275.30L37.40 276.50L37.40 278.90L38.00 280.10L39.20 281.30L40.40 281.90L42.20 282.50L45.20 282.50L47.00 281.90L48.20 281.30L49.40 280.10L50.00 278.90L50.00 276.50L49.40 275.30L48.20 274.10L47.00 273.50" stroke-width="1.9"/><path d="M50.63 270.01 C49.80 269.19 48.15 268.30 47.29 268.41 C46.74 268.52 46.85 269.02 47.57 269.32 C48.67 269.74 50.63 270.24 51.71 270.24 C52.76 270.24 52.92 269.74 52.62 269.27 C52.37 268.86 51.87 268.47 51.38 268.22 " stroke-width="1.7"/><path d="M35.00 256.55L54.20 267.35" stroke-width="1.9"/><path d="M40.40 252.65L39.80 252.65L38.60 252.05L38.00 251.45L37.40 250.25L37.40 247.85L38.00 246.65L38.60 246.05L39.80 245.45L41.00 245.45L42.20 246.05L44.00 247.25L50.00 253.25L50.00 244.85" stroke-width="1.9"/><path d="M41.60 237.45L50.00 239.85M41.60 234.45L45.20 233.85L48.20 233.25L50.00 232.65M43.40 241.65L42.20 240.45L41.60 238.65L41.60 230.85" stroke-width="1.9"/><path d="M35.00 214.20L36.20 215.40L38.00 216.60L40.40 217.80L43.40 218.40L45.80 218.40L48.80 217.80L51.20 216.60L53.00 215.40L54.20 214.20" stroke-width="1.9"/><path d="M41.60 209.50L54.20 213.10M44.00 210.10L47.00 210.70L48.80 210.70L50.00 209.50L50.00 208.30L49.40 207.10L48.20 205.90L45.80 204.70M41.60 203.50L45.80 204.70L48.20 205.30L49.40 205.30L50.00 204.70L50.00 203.50L48.80 202.30L47.60 201.70" stroke-width="1.9"/><path d="M37.40 198.75L50.00 198.75M37.40 198.15L50.00 198.15M37.40 190.95L45.20 198.15M42.80 195.75L50.00 191.55M42.80 195.15L50.00 190.95M37.40 200.55L37.40 196.35M37.40 192.75L37.40 189.15M50.00 200.55L50.00 196.35M50.00 193.35L50.00 189.15" stroke-width="1.7"/><path d="M36.24 186.11L35.88 186.11L35.16 185.75L34.80 185.39L34.44 184.67L34.44 183.23L34.80 182.51L35.16 182.15L35.88 181.79L36.60 181.79L37.32 182.15L38.40 182.87L42.00 186.47L42.00 181.43" stroke-width="2.0"/><path d="M35.00 180.00L36.20 178.80L38.00 177.60L40.40 176.40L43.40 175.80L45.80 175.80L48.80 176.40L51.20 177.60L53.00 178.80L54.20 180.00" stroke-width="1.9"/></g>
</svg>
</body></html>
